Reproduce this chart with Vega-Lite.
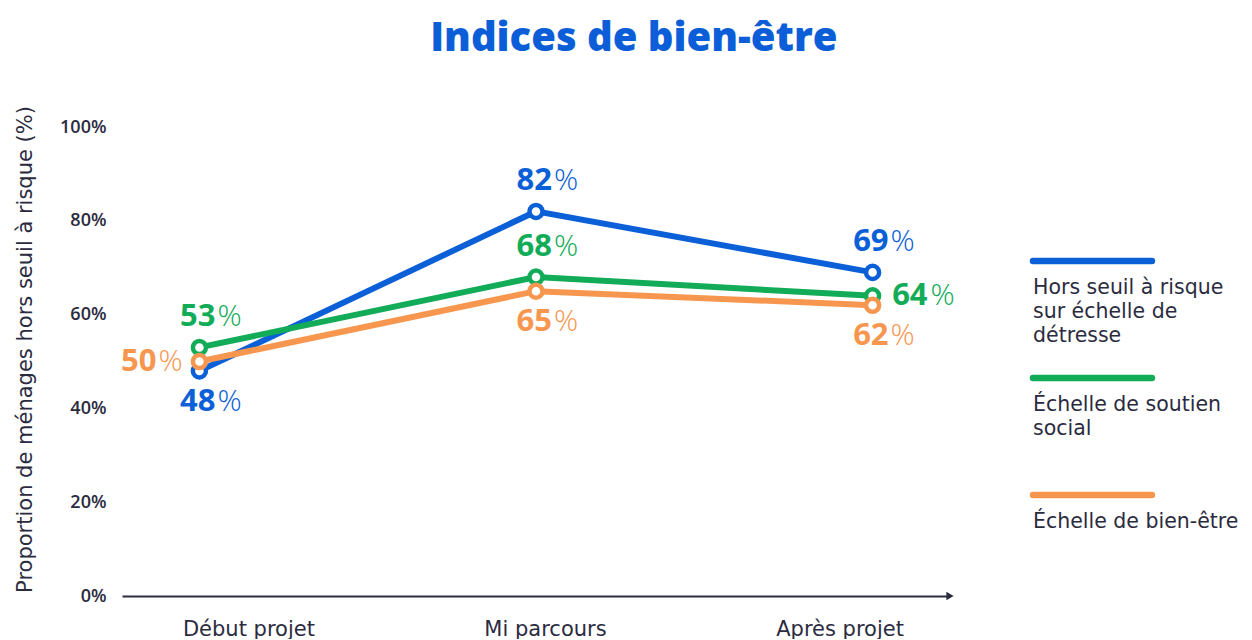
{
  "$schema": "https://vega.github.io/schema/vega-lite/v6.json",
  "padding": {"left": 14, "top": 19, "right": 0, "bottom": 0},
  "background": "white",
  "title": {"text": "Indices de bien-être", "font": "Open Sans", "fontSize": 40, "fontWeight": 800, "color": "#0b5ed7", "anchor": "middle", "offset": 43},
  "config": {"view": {"stroke": null}, "font": "Open Sans"},
  "datasets": {
    "main": [
      {"time": "Début projet", "series": "Hors seuil à risque sur échelle de détresse", "value": 48},
      {"time": "Mi parcours", "series": "Hors seuil à risque sur échelle de détresse", "value": 82},
      {"time": "Après projet", "series": "Hors seuil à risque sur échelle de détresse", "value": 69},
      {"time": "Début projet", "series": "Échelle de soutien social", "value": 53},
      {"time": "Mi parcours", "series": "Échelle de soutien social", "value": 68},
      {"time": "Après projet", "series": "Échelle de soutien social", "value": 64},
      {"time": "Début projet", "series": "Échelle de bien-être", "value": 50},
      {"time": "Mi parcours", "series": "Échelle de bien-être", "value": 65},
      {"time": "Après projet", "series": "Échelle de bien-être", "value": 62}
    ],
    "legend": [
      {"series": "Hors seuil à risque sur échelle de détresse", "label": "Hors seuil à risque\nsur échelle de\ndétresse"},
      {"series": "Échelle de soutien social", "label": "Échelle de soutien\nsocial"},
      {"series": "Échelle de bien-être", "label": "Échelle de bien-être"}
    ]
  },
  "bounds": "flush",
  "spacing": 83,
  "hconcat": [
    {
      "width": 828,
      "height": 469,
      "data": {"name": "main"},
      "encoding": {
        "x": {"field": "time", "type": "nominal", "sort": ["Début projet", "Mi parcours", "Après projet"],
          "scale": {"type": "point", "padding": 0.23},
          "axis": {"title": null, "labelAngle": 0, "ticks": false, "domainColor": "#2b2b40", "domainWidth": 2,
            "labelFont": "DejaVu Sans", "labelFontSize": 21, "labelColor": "#2b2b40", "labelFontWeight": "normal", "labelPadding": 22,
            "labelOffset": {"condition": [{"test": "datum.value == 'Début projet'", "value": 49}, {"test": "datum.value == 'Après projet'", "value": -33}], "value": 9}}},
        "y": {"field": "value", "type": "quantitative", "scale": {"domain": [0, 100]},
          "axis": {"title": "Proportion  de ménages hors seuil à risque (%)", "values": [0, 20, 40, 60, 80, 100],
            "labelExpr": "datum.value + '%'", "domain": false, "ticks": false, "grid": false,
            "labelFontSize": 18, "labelColor": "#2b2b40", "labelFontWeight": 600, "labelPadding": 16,
            "titleFont": "DejaVu Sans", "titleFontSize": 21, "titleColor": "#2b2b40", "titleFontWeight": "normal", "titlePadding": 24, "titleY": 222}},
        "color": {"field": "series", "type": "nominal", "legend": null,
          "scale": {"domain": ["Hors seuil à risque sur échelle de détresse", "Échelle de soutien social", "Échelle de bien-être"], "range": ["#0b60d8", "#12ab58", "#f7974f"]}}
      },
      "layer": [
        {"mark": {"type": "line", "strokeWidth": 6}},
        {"mark": {"type": "point", "filled": false, "fill": "white", "fillOpacity": 1, "size": 170, "strokeWidth": 4.5, "opacity": 1}},
        {
          "transform": [{"filter": "(datum.series == 'Hors seuil à risque sur échelle de détresse' && datum.time != 'Début projet') || (datum.series == 'Échelle de soutien social' && datum.time != 'Après projet')"}],
          "layer": [
            {"mark": {"type": "text", "align": "right", "baseline": "middle", "dx": 16, "dy": -30, "fontSize": 31, "fontWeight": "bold"},
              "encoding": {"text": {"field": "value", "type": "quantitative", "format": "d"}}},
            {"mark": {"type": "text", "align": "left", "baseline": "middle", "dx": 18, "dy": -30, "fontSize": 30, "fontWeight": 300},
              "encoding": {"text": {"value": "%"}}}
          ]
        },
        {
          "transform": [{"filter": "(datum.series == 'Hors seuil à risque sur échelle de détresse' && datum.time == 'Début projet') || (datum.series == 'Échelle de bien-être' && datum.time != 'Début projet')"}],
          "layer": [
            {"mark": {"type": "text", "align": "right", "baseline": "middle", "dx": 16, "dy": 31, "fontSize": 31, "fontWeight": "bold"},
              "encoding": {"text": {"field": "value", "type": "quantitative", "format": "d"}}},
            {"mark": {"type": "text", "align": "left", "baseline": "middle", "dx": 18, "dy": 31, "fontSize": 30, "fontWeight": 300},
              "encoding": {"text": {"value": "%"}}}
          ]
        },
        {
          "transform": [{"filter": "datum.series == 'Échelle de bien-être' && datum.time == 'Début projet'"}],
          "layer": [
            {"mark": {"type": "text", "align": "right", "baseline": "middle", "dx": -43, "dy": 0, "fontSize": 31, "fontWeight": "bold"},
              "encoding": {"text": {"field": "value", "type": "quantitative", "format": "d"}}},
            {"mark": {"type": "text", "align": "left", "baseline": "middle", "dx": -41, "dy": 0, "fontSize": 30, "fontWeight": 300},
              "encoding": {"text": {"value": "%"}}}
          ]
        },
        {
          "transform": [{"filter": "datum.series == 'Échelle de soutien social' && datum.time == 'Après projet'"}],
          "layer": [
            {"mark": {"type": "text", "align": "right", "baseline": "middle", "dx": 55, "dy": 0, "fontSize": 31, "fontWeight": "bold"},
              "encoding": {"text": {"field": "value", "type": "quantitative", "format": "d"}}},
            {"mark": {"type": "text", "align": "left", "baseline": "middle", "dx": 58, "dy": 0, "fontSize": 30, "fontWeight": 300},
              "encoding": {"text": {"value": "%"}}}
          ]
        },
        {
          "data": {"values": [{"arrow": "end"}]},
          "mark": {"type": "point", "shape": "triangle-right", "filled": true, "color": "#2b2b40", "size": 70, "opacity": 1},
          "encoding": {"x": {"value": "width"}, "y": {"value": "height"}, "color": {"value": "#2b2b40"}}
        }
      ]
    },
    {
      "width": 220,
      "height": 469,
      "data": {"name": "legend"},
      "encoding": {
        "y": {"field": "series", "type": "nominal", "axis": null,
          "sort": ["Hors seuil à risque sur échelle de détresse", "Échelle de soutien social", "Échelle de bien-être"],
          "scale": {"type": "point", "range": [134, 368], "padding": 0}},
        "x": {"datum": 0, "type": "quantitative", "scale": {"domain": [0, 1.85]}, "axis": null}
      },
      "layer": [
        {"mark": {"type": "rule", "strokeWidth": 6.5, "strokeCap": "round"},
          "encoding": {"x2": {"datum": 1},
            "color": {"field": "series", "type": "nominal", "legend": null}}},
        {"mark": {"type": "text", "align": "left", "baseline": "top", "dy": 17, "font": "DejaVu Sans", "fontSize": 20.5, "fontWeight": "normal", "lineHeight": 24, "lineBreak": "\n", "color": "#2b2b40"},
          "encoding": {"text": {"field": "label", "type": "nominal"}}}
      ]
    }
  ]
}
